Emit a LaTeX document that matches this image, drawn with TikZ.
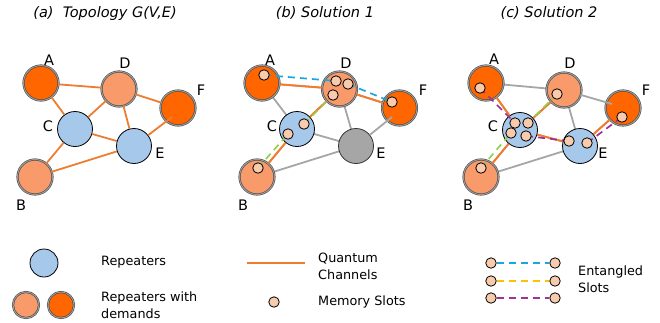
\documentclass[tikz,border=0pt]{standalone}
\usepackage{fontspec}
\setmainfont{DejaVu Sans}
\definecolor{chan}{HTML}{ED7D31}
\definecolor{dem}{HTML}{FF6600}
\definecolor{demlt}{HTML}{F99A6A}
\definecolor{rep}{HTML}{A6C8EB}
\definecolor{slotc}{HTML}{F8CBAD}
\definecolor{greyc}{HTML}{A6A6A6}
\definecolor{eblue}{HTML}{1AA7E0}
\definecolor{eyel}{HTML}{FFC000}
\definecolor{epur}{HTML}{A0309A}
\definecolor{egrn}{HTML}{92D050}
\tikzset{
  base/.style={circle,inner sep=0pt,minimum size=35pt},
  demnode/.style={base,fill=dem,draw=black!75,double=black!40,double distance=1.1pt,line width=0.5pt},
  demltnode/.style={base,fill=demlt,draw=black!75,double=black!40,double distance=1.1pt,line width=0.5pt},
  repnode/.style={base,fill=rep,draw=black,line width=0.8pt},
  offnode/.style={base,fill=greyc,draw=black!80,line width=0.8pt},
  slot/.style={circle,inner sep=0pt,minimum size=10.5pt,fill=slotc,draw=black,line width=0.8pt},
  qch/.style={draw=chan,line width=1.8pt},
  gch/.style={draw=greyc,line width=1.8pt},
  ent/.style={line width=1.7pt,dash pattern=on 7pt off 5pt},
  lbl/.style={font=\fontsize{14.5}{16}\selectfont,inner sep=0pt},
  ttl/.style={font=\fontsize{14.5}{17}\selectfont\itshape,inner sep=0pt},
  leg/.style={font=\fontsize{12.8}{17}\selectfont,inner sep=0pt,anchor=west,align=left},
}
\begin{document}
\begin{tikzpicture}[x=1pt,y=-1pt]
\useasboundingbox (0,0) rectangle (660,322);
% ---------- titles
\node[ttl] (ta) at (105,13) {(a)\ \ Topology G(V,E)};
\node[ttl] (tb) at (325,13) {(b) Solution 1};
\node[ttl] (tc) at (549,13) {(c) Solution 2};

% ================= (a)
\node[demnode]   (aA) at (41,83) {};
\node[demltnode] (aD) at (119,89) {};
\node[demnode]   (aF) at (178,108) {};
\node[repnode]   (aC) at (75,129) {};
\node[repnode]   (aE) at (134,146) {};
\node[demltnode] (aB) at (35,177) {};
\draw[qch] (aA) -- (aD);
\draw[qch] (aA) -- (aC);
\draw[qch] (aD) -- (aC);
\draw[qch] (aD) -- (aF);
\draw[qch] (aD) -- (aE);
\draw[qch] (aC) -- (aE);
\draw[qch] (aC) -- (aB);
\draw[qch] (aB) -- (aE);
\coordinate (aFin) at (172,117);
\draw[qch] (aE) -- (aFin);
\node[lbl] (laA) at (49,60) {A};
\node[lbl] (laD) at (125,63) {D};
\node[lbl] (laF) at (201,90) {F};
\node[lbl] (laC) at (48,126) {C};
\node[lbl] (laE) at (160,153) {E};
\node[lbl] (laB) at (21,205) {B};

% ================= (b)
\coordinate (bAc) at (262,83);
\coordinate (bDc) at (339.5,89);
\coordinate (bFc) at (399.5,108);
\coordinate (bCc) at (297,129);
\coordinate (bEc) at (356,146);
\coordinate (bBc) at (257,177);
\draw[qch] (bAc) -- (bDc);
\draw[qch] (bDc) -- (bFc);
\draw[qch] (bDc) -- (bCc);
\draw[qch] (bCc) -- (bBc);
\draw[gch] (bAc) -- (bCc);
\draw[gch] (bDc) -- (bEc);
\draw[gch] (bCc) -- (bEc);
\draw[gch] (bBc) -- (bEc);
\node[demnode]   (bA) at (bAc) {};
\node[demltnode] (bD) at (bDc) {};
\node[demnode]   (bF) at (bFc) {};
\node[repnode]   (bC) at (bCc) {};
\node[offnode]   (bE) at (bEc) {};
\node[demltnode] (bB) at (bBc) {};
\coordinate (bFin) at (392,117);
\draw[gch] (bE) -- (bFin);
\draw[qch] (bA) -- (bD);
\draw[qch] (bD) -- (bF);
\draw[qch] (bD) -- (bC);
\draw[qch] (bC) -- (bB);
\coordinate (sbA) at (264,75);
\coordinate (sbD1) at (336,81);
\coordinate (sbD2) at (348,84);
\coordinate (sbD3) at (333,95);
\coordinate (sbF) at (392,102);
\coordinate (sbC1) at (304,124);
\coordinate (sbC2) at (288,134);
\coordinate (sbB) at (258,168);
\draw[ent,eblue] (sbA) -- (sbD1);
\draw[ent,eblue] (sbD2) -- (sbF);
\draw[ent,egrn] (sbC1) -- (sbD3);
\draw[ent,egrn] (sbB) -- (sbC2);
\foreach \s in {sbA,sbD1,sbD2,sbD3,sbF,sbC1,sbC2,sbB} \node[slot] (n\s) at (\s) {};
\node[lbl] (lbA) at (270,60) {A};
\node[lbl] (lbD) at (346,63) {D};
\node[lbl] (lbF) at (423,90) {F};
\node[lbl] (lbC) at (272,126) {C};
\node[lbl] (lbE) at (381,153) {E};
\node[lbl] (lbB) at (243,205) {B};

% ================= (c)
\coordinate (cAc) at (486,83);
\coordinate (cDc) at (564,90);
\coordinate (cFc) at (623,108);
\coordinate (cCc) at (520,130);
\coordinate (cEc) at (580,146);
\coordinate (cBc) at (481,177);
\draw[gch] (cAc) -- (cDc);
\draw[gch] (cDc) -- (cEc);
\draw[gch] (cBc) -- (cEc);
\draw[qch] (cAc) -- (cCc);
\draw[qch] (cCc) -- (cBc);
\draw[qch] (cCc) -- (cDc);
\draw[qch] (cCc) -- (cEc);
\draw[qch] (cEc) -- (cFc);
\node[demnode]   (cA) at (cAc) {};
\node[demltnode] (cD) at (cDc) {};
\node[demnode]   (cF) at (cFc) {};
\node[repnode]   (cC) at (cCc) {};
\node[repnode]   (cE) at (cEc) {};
\node[demltnode] (cB) at (cBc) {};
\coordinate (cFin) at (612,104);
\draw[gch] (cD) -- (cFin);
\draw[qch] (cA) -- (cC);
\draw[qch] (cC) -- (cB);
\draw[qch] (cC) -- (cD);
\draw[qch] (cC) -- (cE);
\draw[qch] (cE) -- (cF);
\coordinate (scA) at (480,88);
\coordinate (scD) at (557,94);
\coordinate (scF) at (622,117);
\coordinate (scC1) at (515,123);
\coordinate (scC2) at (528,123);
\coordinate (scC3) at (511,133);
\coordinate (scC4) at (526,136);
\coordinate (scE1) at (569,141);
\coordinate (scE2) at (587,143);
\coordinate (scB) at (481,168);
\draw[ent,epur] (scA) -- (scC1);
\draw[ent,egrn] (scD) -- (scC2);
\draw[ent,egrn] (scB) -- (scC3);
\draw[ent,epur] (scC4) -- (scE1);
\draw[ent,epur] (scE2) -- (scF);
\foreach \s in {scA,scD,scF,scC1,scC2,scC3,scC4,scE1,scE2,scB} \node[slot] (n\s) at (\s) {};
\node[lbl] (lcA) at (494,59) {A};
\node[lbl] (lcD) at (570,63) {D};
\node[lbl] (lcF) at (646,90) {F};
\node[lbl] (lcC) at (493,126) {C};
\node[lbl] (lcE) at (603,153) {E};
\node[lbl] (lcB) at (468,205) {B};

% ================= legend
\node[repnode,minimum size=28pt] (gR) at (44,263) {};
\node[demltnode,minimum size=26pt] (gD1) at (26,305) {};
\node[demnode,minimum size=26pt] (gD2) at (61,305) {};
\node[leg] (tR) at (101,262) {Repeaters};
\node[leg] (tD) at (101,305) {Repeaters with\\demands};
\coordinate (gL1) at (247,263);
\coordinate (gL2) at (305,263);
\draw[qch] (gL1) -- (gL2);
\node[leg] (tQ) at (318,266) {Quantum\\Channels};
\node[slot] (gS) at (274,302) {};
\node[leg] (tM) at (318,302) {Memory Slots};
\node[slot] (e1a) at (491,263) {};
\node[slot] (e1b) at (555,263) {};
\node[slot] (e2a) at (491,281) {};
\node[slot] (e2b) at (555,281) {};
\node[slot] (e3a) at (491,298) {};
\node[slot] (e3b) at (555,298) {};
\draw[ent,eblue] (e1a) -- (e1b);
\draw[ent,eyel] (e2a) -- (e2b);
\draw[ent,epur] (e3a) -- (e3b);
\node[leg] (tE) at (578,279) {Entangled\\Slots};
\end{tikzpicture}
\end{document}
